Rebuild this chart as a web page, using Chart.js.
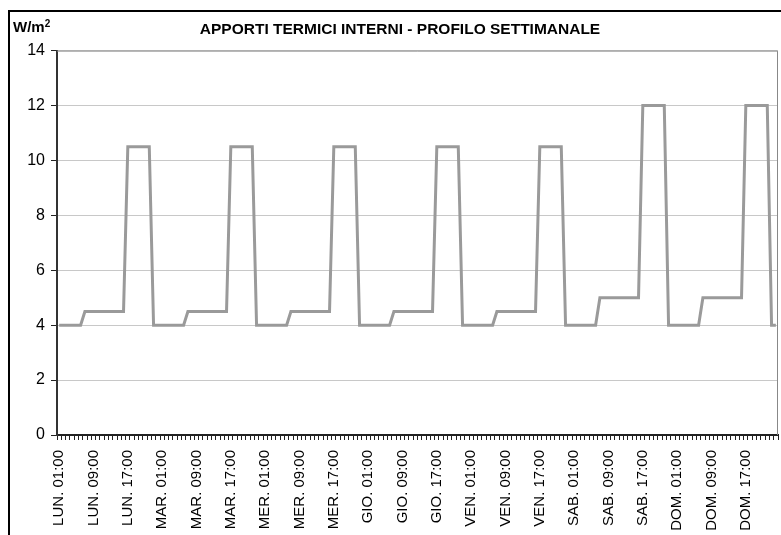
<!DOCTYPE html>
<html>
<head>
<meta charset="utf-8">
<script src="https://cdn.jsdelivr.net/npm/chart.js@4/dist/chart.umd.min.js"></script>
<style>
  html, body { margin: 0; padding: 0; background: #fff; overflow: hidden; }
  body { width: 781px; height: 535px; position: relative; }
  #frame {
    position: absolute; left: 8px; top: 10px;
    width: 800px; height: 620px;
    border: 2px solid #000;
  }
  #wrap { position: absolute; left: 0; top: 0; width: 780px; height: 600px; }
  #unit {
    position: absolute; left: 3px; top: 5px;
    font: bold 15px "Liberation Sans", Arial, sans-serif; color: #000;
  }
  #unit sup { font-size: 10px; position: relative; top: 1px; }
</style>
</head>
<body>
<div id="frame">
  <div id="wrap"><canvas id="myChart"></canvas></div>
  <div id="unit">W/m<sup>2</sup></div>
</div>
<script>
const giorni = ["LUN.", "MAR.", "MER.", "GIO.", "VEN.", "SAB.", "DOM."];
const ore = ["01:00", "02:00", "03:00", "04:00", "05:00", "06:00", "07:00", "08:00",
             "09:00", "10:00", "11:00", "12:00", "13:00", "14:00", "15:00", "16:00",
             "17:00", "18:00", "19:00", "20:00", "21:00", "22:00", "23:00", "24:00"];

// W/m2, one row per day, hours 01:00 .. 24:00
const apporti = [
  4, 4, 4, 4, 4, 4, 4.5, 4.5, 4.5, 4.5, 4.5, 4.5, 4.5, 4.5, 4.5, 4.5, 10.5, 10.5, 10.5, 10.5, 10.5, 10.5, 4, 4,
  4, 4, 4, 4, 4, 4, 4.5, 4.5, 4.5, 4.5, 4.5, 4.5, 4.5, 4.5, 4.5, 4.5, 10.5, 10.5, 10.5, 10.5, 10.5, 10.5, 4, 4,
  4, 4, 4, 4, 4, 4, 4.5, 4.5, 4.5, 4.5, 4.5, 4.5, 4.5, 4.5, 4.5, 4.5, 10.5, 10.5, 10.5, 10.5, 10.5, 10.5, 4, 4,
  4, 4, 4, 4, 4, 4, 4.5, 4.5, 4.5, 4.5, 4.5, 4.5, 4.5, 4.5, 4.5, 4.5, 10.5, 10.5, 10.5, 10.5, 10.5, 10.5, 4, 4,
  4, 4, 4, 4, 4, 4, 4.5, 4.5, 4.5, 4.5, 4.5, 4.5, 4.5, 4.5, 4.5, 4.5, 10.5, 10.5, 10.5, 10.5, 10.5, 10.5, 4, 4,
  4, 4, 4, 4, 4, 4, 5, 5, 5, 5, 5, 5, 5, 5, 5, 5, 12, 12, 12, 12, 12, 12, 4, 4,
  4, 4, 4, 4, 4, 4, 5, 5, 5, 5, 5, 5, 5, 5, 5, 5, 12, 12, 12, 12, 12, 12, 4, 4
];

const labels = [];
giorni.forEach(g => ore.forEach(o => labels.push(g + " " + o)));

const fontBase = '"Liberation Sans", Arial, sans-serif';

// bordo grigio sopra e a destra dell'area del grafico
const bordoArea = {
  id: 'bordoArea',
  beforeDatasetsDraw(chart) {
    const { ctx, chartArea: a } = chart;
    ctx.save();
    ctx.strokeStyle = '#888';
    ctx.lineWidth = 1;
    ctx.beginPath();
    ctx.moveTo(a.left, a.top + 0.5);
    ctx.lineTo(a.right - 0.5, a.top + 0.5);
    ctx.lineTo(a.right - 0.5, a.bottom);
    ctx.stroke();
    ctx.restore();
  }
};

const ctx = document.getElementById("myChart");

new Chart(ctx, {
  type: 'line',
  data: {
    labels,
    datasets: [{
      label: "Apporti termici interni",
      data: apporti,
      borderColor: '#9a9a9a',
      borderWidth: 3,
      pointRadius: 0,
      tension: 0,
      fill: false
    }]
  },
  options: {
    responsive: true,
    maintainAspectRatio: false,
    animation: false,
    events: [],
    layout: { padding: { left: 12, right: 12, top: 0, bottom: 0 } },
    plugins: {
      legend: { display: false },
      tooltip: { enabled: false },
      title: {
        display: true,
        text: "APPORTI TERMICI INTERNI - PROFILO SETTIMANALE",
        color: '#000',
        font: { family: fontBase, size: 15.5, weight: 'bold' },
        padding: { top: 8, bottom: 12 }
      }
    },
    scales: {
      x: {
        type: 'category',
        offset: true,
        afterFit: s => { s.height = 177; s.paddingRight = 0; s.paddingLeft = 0; },
        grid: {
          offset: true,
          drawOnChartArea: false,
          drawTicks: true,
          tickLength: 5,
          tickColor: '#222',
          tickWidth: 1
        },
        border: { color: '#222', width: 2 },
        ticks: {
          autoSkip: false,
          minRotation: 90,
          maxRotation: 90,
          padding: 10,
          color: '#000',
          font: { family: fontBase, size: 15 },
          callback: (v, i) => (i % 8 === 0 ? labels[i] : '')
        }
      },
      y: {
        min: 0,
        max: 14,
        afterFit: s => { s.width = 35; },
        grid: {
          color: '#c8c8c8',
          lineWidth: 1,
          tickLength: 6,
          tickColor: '#222'
        },
        border: { color: '#333', width: 2 },
        ticks: {
          stepSize: 2,
          padding: 6,
          color: '#000',
          font: { family: fontBase, size: 16 }
        }
      }
    }
  },
  plugins: [bordoArea]
});
</script>
</body>
</html>
